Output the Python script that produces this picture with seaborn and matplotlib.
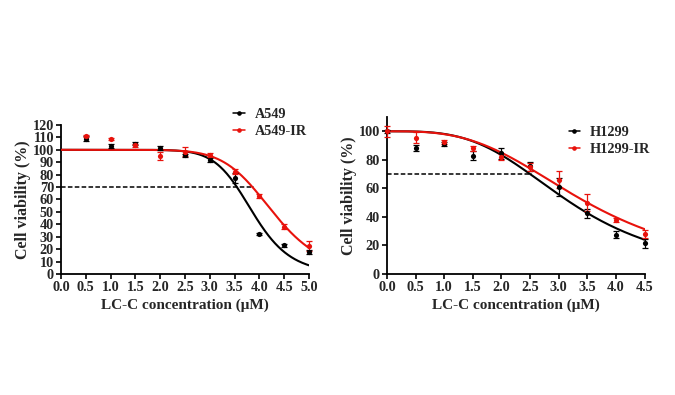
import numpy as np
import pandas as pd
import matplotlib
matplotlib.use("Agg")
import matplotlib.pyplot as plt
import seaborn as sns
from matplotlib.lines import Line2D

sns.set_theme(style="ticks")
plt.rcParams['font.family'] = ['Liberation Serif', 'DejaVu Serif']
plt.rcParams['font.weight'] = 'bold'

# ---------------- data ----------------
conc_left = [0.5, 1.0, 1.5, 2.0, 2.5, 3.0, 3.5, 4.0, 4.5, 5.0]
a549 = [109, 103, 105, 101.5, 95.5, 92, 77.5, 32, 23, 18]
a549_err = [2, 1.5, 1.5, 1.5, 1, 1.5, 4, 0.8, 1, 1.5]
a549ir = [111, 109, 103.5, 95, 98.5, 96, 82.5, 63, 38, 22.5]
a549ir_err = [1, 0.8, 1.5, 3.5, 3.5, 1.5, 2, 1.5, 2, 4]

conc_right = [0.0, 0.5, 1.0, 1.5, 2.0, 2.5, 3.0, 3.5, 4.0, 4.5]
h1299 = [100, 88.5, 91, 83, 84.5, 75.5, 61, 42.5, 27.5, 21.5]
h1299_err = [1, 2, 1.5, 3, 4, 3, 6, 3, 2.5, 3]
h1299ir = [100, 95.5, 92.5, 88, 82, 75, 66, 50, 38, 28]
h1299ir_err = [4, 4, 1.5, 2, 2, 3, 6, 6, 1.5, 3]

# fitted dose-response parameters (top, bottom, IC50, Hill slope)
fit_a549 = (100, 0, 3.86, 10.0)
fit_a549ir = (100, 0, 4.27, 8.4)
fit_h1299 = (100, 0, 3.21, 3.4)
fit_h1299ir = (100, 0, 3.50, 3.1)

left_yticks = list(range(0, 121, 10))
left_xticks = [0.0, 0.5, 1.0, 1.5, 2.0, 2.5, 3.0, 3.5, 4.0, 4.5, 5.0]
right_yticks = [0, 20, 40, 60, 80, 100]
right_xticks = [0.0, 0.5, 1.0, 1.5, 2.0, 2.5, 3.0, 3.5, 4.0, 4.5]

cutoff = 70
cutoff_end_left = 3.9
cutoff_end_right = 2.53


def hill(x, p):
    top, bottom, c, h = p
    return bottom + (top - bottom) / (1 + (x / c) ** h)


fig = plt.figure(figsize=(6.75, 3.95), dpi=100)
ax1 = fig.add_axes([61 / 675, 121 / 395, 248 / 675, 149 / 395])
ax2 = fig.add_axes([387 / 675, 121 / 395, 257.5 / 675, 157 / 395])

BLACK = "#000000"
RED = "#e8120c"


def draw(ax, xs, ys_list, errs_list, fits, labels, xmax):
    xc = np.linspace(0, xmax, 300)
    for ys, errs, fit, lab, col in zip(ys_list, errs_list, fits, labels, [BLACK, RED]):
        df = pd.DataFrame({"x": xc, "y": hill(xc, fit)})
        sns.lineplot(data=df, x="x", y="y", ax=ax, color=col, lw=1.5, zorder=3)
        ax.errorbar(xs, ys, yerr=errs, fmt="none", ecolor=col, elinewidth=0.9,
                    capsize=2, capthick=0.9, zorder=4, clip_on=False)
        pts = pd.DataFrame({"x": xs, "y": ys})
        sns.scatterplot(data=pts, x="x", y="y", ax=ax, color=col, s=14,
                        edgecolor=col, linewidth=0, zorder=5, clip_on=False)


draw(ax1, conc_left, [a549, a549ir], [a549_err, a549ir_err],
     [fit_a549, fit_a549ir], ["A549", "A549-IR"], 5.0)
draw(ax2, conc_right, [h1299, h1299ir], [h1299_err, h1299ir_err],
     [fit_h1299, fit_h1299ir], ["H1299", "H1299-IR"], 4.5)

ax1.plot([0, cutoff_end_left], [cutoff, cutoff], ls=(0, (3, 1.5)), color="black", lw=1.1, zorder=2)
ax2.plot([0, cutoff_end_right], [cutoff, cutoff], ls=(0, (3, 1.5)), color="black", lw=1.1, zorder=2)

for ax, xt, yt, xlim, ylim in [(ax1, left_xticks, left_yticks, 5.0, 120),
                               (ax2, right_xticks, right_yticks, 4.5, 110)]:
    ax.set_xlim(0, xlim)
    ax.set_ylim(0, ylim)
    ax.set_xticks(xt)
    ax.set_xticklabels([f"{v:.1f}" for v in xt])
    ax.set_yticks(yt)
    ax.set_yticklabels([str(v) for v in yt])
    ax.tick_params(axis="both", labelsize=10.3, width=1.2, length=3.5, pad=1.5, color="black")
    for lbl in ax.get_xticklabels() + ax.get_yticklabels():
        lbl.set_fontweight("bold")
    sns.despine(ax=ax)
    for s in ["left", "bottom"]:
        ax.spines[s].set_linewidth(1.3)
        ax.spines[s].set_color("black")
    ax.set_xlabel("LC-C concentration (μM)", fontsize=11, fontweight="bold", labelpad=3)
    ax.set_ylabel("Cell viability (%)", fontsize=11.5, fontweight="bold", labelpad=1.5)
    ax.set_facecolor("white")


def legend(ax, labels, loc):
    handles = [Line2D([0], [0], color=c, lw=1.1, marker="o", markersize=2.3)
               for c in [BLACK, RED]]
    leg = ax.legend(handles, labels, loc="upper left", bbox_to_anchor=loc,
                    frameon=False, fontsize=10.3, handlelength=0.8, handletextpad=0.7,
                    labelspacing=0.3, borderaxespad=0, borderpad=0)
    for t in leg.get_texts():
        t.set_fontweight("bold")


legend(ax1, ["A549", "A549-IR"], (0.695, 1.115))
legend(ax2, ["H1299", "H1299-IR"], (0.705, 0.945))

fig.savefig("out.png", dpi=100, facecolor="white")
